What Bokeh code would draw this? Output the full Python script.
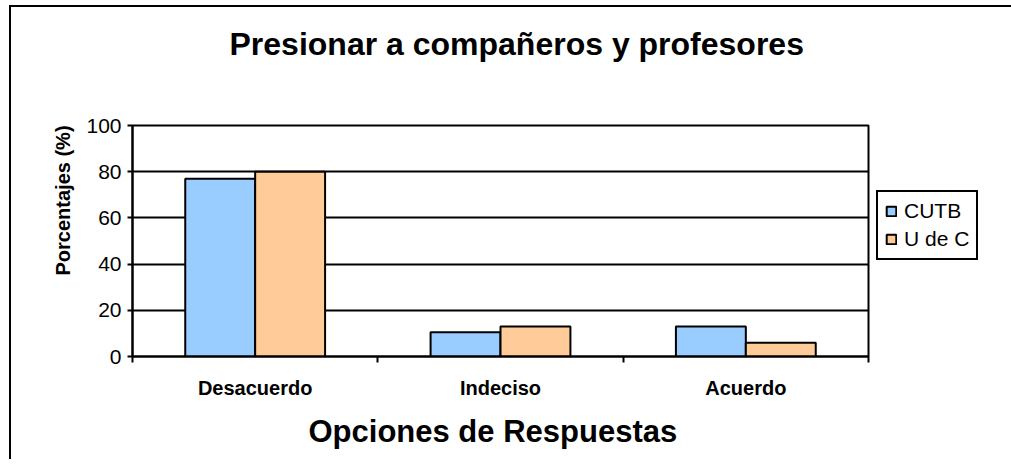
from bokeh.plotting import figure
from bokeh.models import (ColumnDataSource, Range1d, FixedTicker, Legend,
                          LegendItem, Title)
from bokeh.transform import dodge
from bokeh.embed import file_html
from bokeh.resources import INLINE

categories = ["Desacuerdo", "Indeciso", "Acuerdo"]
series_names = ["CUTB", "U de C"]
cutb = [77, 10.5, 13]
udec = [80, 13, 6]
y_ticks = [0, 20, 40, 60, 80, 100]
chart_title = "Presionar a compañeros y profesores"
x_title = "Opciones de Respuestas"
y_title = "Porcentajes (%)"
colors = ["#99CCFF", "#FFCC99"]

FONT = "Liberation Sans"

centers = [i + 0.5 for i in range(len(categories))]
bounds = [i for i in range(len(categories) + 1)]
src = ColumnDataSource(dict(x=centers, cutb=cutb, udec=udec))

p = figure(frame_width=736, frame_height=231,
           x_range=Range1d(0, len(categories)), y_range=Range1d(0, 100),
           output_backend="svg", toolbar_location=None, title=None,
           min_border_left=121, min_border_top=118,
           min_border_right=150, min_border_bottom=103)
p.styles = {"border-left": "2px solid black", "border-top": "2px solid black",
            "transform": "translate(9px, 5px)"}

p.background_fill_color = "white"
p.border_fill_color = "white"
p.outline_line_color = "black"
p.outline_line_width = 2

# bars
r1 = p.vbar(x=dodge("x", -0.1425), top="cutb", width=0.285, source=src,
            fill_color=colors[0], line_color="black", line_width=2)
r2 = p.vbar(x=dodge("x", 0.1425), top="udec", width=0.285, source=src,
            fill_color=colors[1], line_color="black", line_width=2)

# spacer between frame and chart title, then the chart title
spacer = Title(text=" ", text_font=FONT, text_font_size="10px", standoff=46)
p.add_layout(spacer, "above")
main_title = Title(text=chart_title, align="left", offset=97, text_font=FONT,
                   text_font_size="32px", text_font_style="bold",
                   text_color="black", standoff=10)
p.add_layout(main_title, "above")

# x axis
xa = p.xaxis[0]
xa.ticker = FixedTicker(ticks=centers, minor_ticks=bounds)
xa.major_label_overrides = {c: lab for c, lab in zip(centers, categories)}
xa.major_tick_out = 0
xa.major_tick_in = 0
xa.minor_tick_out = 6
xa.minor_tick_in = 0
xa.minor_tick_line_color = "black"
xa.minor_tick_line_width = 2
xa.axis_line_color = "black"
xa.axis_line_width = 2
xa.major_label_standoff = 14
xa.major_label_text_font = FONT
xa.major_label_text_font_size = "20px"
xa.major_label_text_font_style = "bold"
xa.major_label_text_color = "black"

# y axis
ya = p.yaxis[0]
ya.ticker = FixedTicker(ticks=y_ticks, minor_ticks=[])
ya.major_tick_out = 5
ya.major_tick_in = 0
ya.major_tick_line_color = "black"
ya.major_tick_line_width = 2
ya.axis_line_color = "black"
ya.axis_line_width = 2
ya.major_label_standoff = 6
ya.major_label_text_font = FONT
ya.major_label_text_font_size = "21px"
ya.major_label_text_color = "black"

# grid
p.xgrid.visible = False
p.ygrid.ticker = FixedTicker(ticks=y_ticks)
p.ygrid.grid_line_color = "black"
p.ygrid.grid_line_width = 2

# axis titles
yt = Title(text=y_title, align="left", offset=81, text_font=FONT,
           text_font_size="20px", text_font_style="bold", text_color="black",
           standoff=19)
p.add_layout(yt, "left")
xt = Title(text=x_title, align="left", offset=176, text_font=FONT,
           text_font_size="31px", text_font_style="bold", text_color="black",
           standoff=20)
p.add_layout(xt, "below")

# legend
legend = Legend(items=[LegendItem(label=series_names[0], renderers=[r1]),
                       LegendItem(label=series_names[1], renderers=[r2])],
                location=(8, 96), orientation="vertical",
                label_text_font=FONT, label_text_font_size="21px",
                label_text_color="black", glyph_width=12, glyph_height=12,
                label_height=21, label_standoff=7, spacing=4, padding=7,
                margin=0, border_line_color="black", border_line_width=2,
                border_line_alpha=1,
                background_fill_color="white", background_fill_alpha=1)
p.add_layout(legend, "right")

open("out.html", "w").write(file_html(p, INLINE))
